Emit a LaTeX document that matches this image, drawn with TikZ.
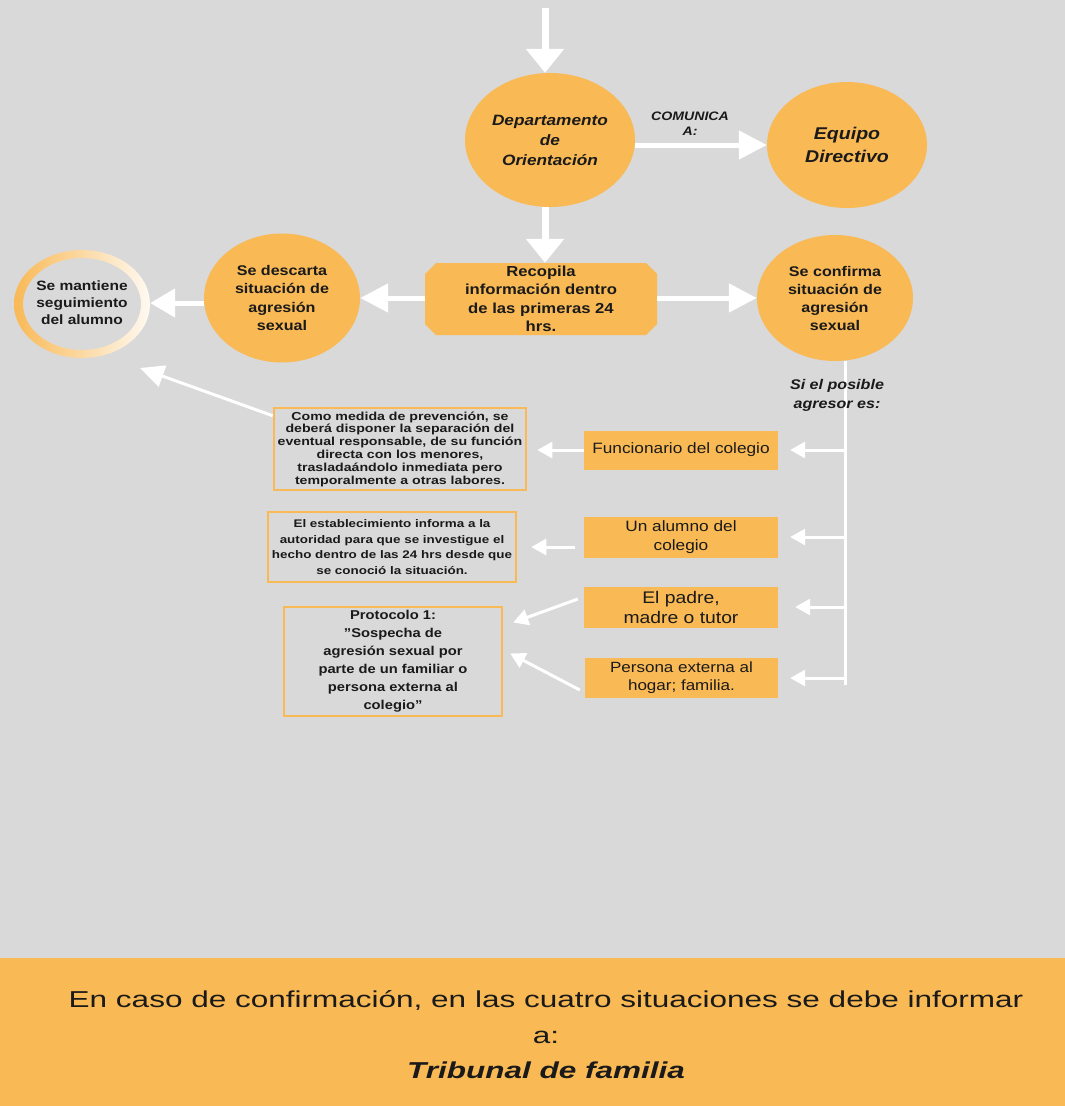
\documentclass[tikz,border=0pt]{standalone}
\usepackage{fontspec}
\setmainfont{Liberation Sans}[FakeStretch=1.15]
\newfontfamily\botfont{Liberation Sans}[FakeStretch=1.37]
\newfontfamily\widefont{Liberation Sans}[FakeStretch=1.22]
\usetikzlibrary{shapes.geometric,arrows.meta}
\definecolor{bg}{HTML}{D9D9D9}
\definecolor{org}{HTML}{F9B955}
\definecolor{txt}{HTML}{1A1A1A}
\tikzset{
  circ/.style={ellipse, fill=org, inner sep=0pt, align=center, text=txt},
  obox/.style={rectangle, fill=org, inner sep=0pt, align=center, text=txt},
  tbox/.style={rectangle, draw=org, line width=2.5pt, inner sep=0pt, align=center, text=txt},
  chamfbox/.style={rectangle, inner sep=0pt, align=center, text=txt,
    path picture={\fill[org]
      ([xshift=11pt]path picture bounding box.north west) --
      ([xshift=-11pt]path picture bounding box.north east) --
      ([yshift=-11pt]path picture bounding box.north east) --
      ([yshift=11pt]path picture bounding box.south east) --
      ([xshift=-11pt]path picture bounding box.south east) --
      ([xshift=11pt]path picture bounding box.south west) --
      ([yshift=11pt]path picture bounding box.south west) --
      ([yshift=-11pt]path picture bounding box.north west) -- cycle;}},
  bigarrow/.style={draw=white, line width=7pt, -{Triangle[width=37pt,length=24pt]}, white},
  midarrow/.style={draw=white, line width=5pt, -{Triangle[width=28pt,length=28pt]}, white},
  thinarrow/.style={draw=white, line width=3pt, -{Triangle[width=16pt,length=15pt]}, white},
}
\begin{document}
\begin{tikzpicture}[x=1pt,y=-1pt]
\useasboundingbox (0,0) rectangle (1065,1106);
\fill[bg] (0,0) rectangle (1065,1106);
\fill[org] (0,958) rectangle (1065,1106);

% coordinates
\coordinate (top) at (545,8);
\coordinate (vtop) at (845,361);
\coordinate (vbot) at (845,685);
\coordinate (b1) at (845,450);
\coordinate (b2) at (845,537);
\coordinate (b3) at (845,607);
\coordinate (b4) at (845,678);
\coordinate (ringtip) at (140,368);

\draw[draw=white, line width=3pt] (vtop) -- (vbot);

% nodes
\node[circ, minimum width=170pt, minimum height=134pt, font=\fontsize{15}{20}\selectfont\bfseries\itshape] (dep) at (550,140) {Departamento\\de\\Orientación};
\node[circ, minimum width=160pt, minimum height=126pt, font=\fontsize{17}{23}\selectfont\bfseries\itshape] (equ) at (847,145) {Equipo\\Directivo};
\node[font=\fontsize{12.3}{15}\selectfont\bfseries\itshape, text=txt, align=center] (com) at (690,124) {COMUNICA\\A:};
\node[chamfbox, minimum width=232pt, minimum height=72pt, font=\fontsize{14.5}{18.5}\selectfont\bfseries] (rec) at (541,299) {Recopila\\información dentro\\de las primeras 24\\hrs.};
\node[circ, minimum width=156pt, minimum height=129pt, font=\fontsize{14}{18.5}\selectfont\bfseries] (des) at (282,298) {Se descarta\\situación de\\agresión\\sexual};
\node[circ, minimum width=156pt, minimum height=126pt, font=\fontsize{14}{18}\selectfont\bfseries] (con) at (835,298) {Se confirma\\situación de\\agresión\\sexual};

% ring
\shade[left color=org, right color=white!92!org, even odd rule]
  (82,304) ellipse [x radius=68, y radius=54]
  (82,304) ellipse [x radius=59, y radius=46];
\node[ellipse, minimum width=136pt, minimum height=108pt, inner sep=0pt, align=center, text=txt, font=\fontsize{13.5}{17}\selectfont\bfseries] (ring) at (82,303) {Se mantiene\\seguimiento\\del alumno};

\node[font=\fontsize{14}{19}\selectfont\bfseries\itshape, text=txt, align=center] (si) at (837,395) {Si el posible\\agresor es:};

\node[obox, minimum width=194pt, minimum height=39pt, font=\fontsize{15}{19}\selectfont] (fun) at (681,450) {Funcionario del colegio};
\node[obox, minimum width=194pt, minimum height=41pt, font=\fontsize{15}{19}\selectfont] (alu) at (681,537) {Un alumno del\\colegio};
\node[obox, minimum width=194pt, minimum height=41pt, font=\fontsize{16.8}{20}\selectfont] (pad) at (681,607) {El padre,\\madre o tutor};
\node[obox, minimum width=193pt, minimum height=40pt, font=\fontsize{14.8}{18}\selectfont] (per) at (681.5,678) {Persona externa al\\hogar; familia.};

\node[tbox, minimum width=252pt, minimum height=82pt, font=\widefont\fontsize{11.6}{12.8}\selectfont\bfseries] (como) at (400,449) {Como medida de prevención, se\\deberá disponer la separación del\\eventual responsable, de su función\\directa con los menores,\\trasladaándolo inmediata pero\\temporalmente a otras labores.};
\node[tbox, minimum width=248pt, minimum height=70pt, font=\widefont\fontsize{11}{15.5}\selectfont\bfseries] (est) at (392,547) {El establecimiento informa a la\\autoridad para que se investigue el\\hecho dentro de las 24 hrs desde que\\se conoció la situación.};
\node[tbox, minimum width=218pt, minimum height=109pt, font=\fontsize{12.8}{18}\selectfont\bfseries] (pro) at (393,661.5) {Protocolo 1:\\\symbol{34}Sospecha de\\agresión sexual por\\parte de un familiar o\\persona externa al\\colegio\symbol{34}};

% bottom text
\node[text=txt, font=\botfont\fontsize{23}{35.5}\selectfont, align=center] (fin) at (546,1035) {En caso de confirmación, en las cuatro situaciones se debe informar\\a:\\\textbf{\textit{Tribunal de familia}}};

% arrows
\draw[bigarrow] (top) -- (dep.north -| top);
\draw[bigarrow] (dep.south -| top) -- (rec.north -| top);
\draw[midarrow] (dep.east |- equ) -- (equ.west);
\draw[midarrow] (rec.west |- des) -- (des.east);
\draw[midarrow] (rec.east |- con) -- (con.west);
\draw[draw=white, line width=5pt, -{Triangle[width=28pt,length=25pt]}] (des.west |- ring) -- (ring.east);
\draw[thinarrow] (b1) -- ([xshift=12pt]fun.east |- b1);
\draw[thinarrow] (b2) -- ([xshift=12pt]alu.east |- b2);
\draw[thinarrow] (b3) -- ([xshift=17pt]pad.east |- b3);
\draw[thinarrow] (b4) -- ([xshift=12pt]per.east |- b4);
\draw[thinarrow] (fun.west) -- ([xshift=10pt]como.east |- fun);
\draw[thinarrow] ([xshift=-9pt]alu.west |- est) -- ([xshift=14pt]est.east);
\draw[thinarrow] ([xshift=-6pt,yshift=8pt]pad.west) -- ([xshift=10pt,yshift=39pt]pro.east);
\draw[thinarrow] ([xshift=-5pt,yshift=-12pt]per.west) -- ([xshift=7pt,yshift=8pt]pro.east);
\draw[draw=white, line width=3pt, -{Triangle[width=22pt,length=24pt]}] ([yshift=-9pt]como.north west) -- (ringtip);
\end{tikzpicture}
\end{document}
